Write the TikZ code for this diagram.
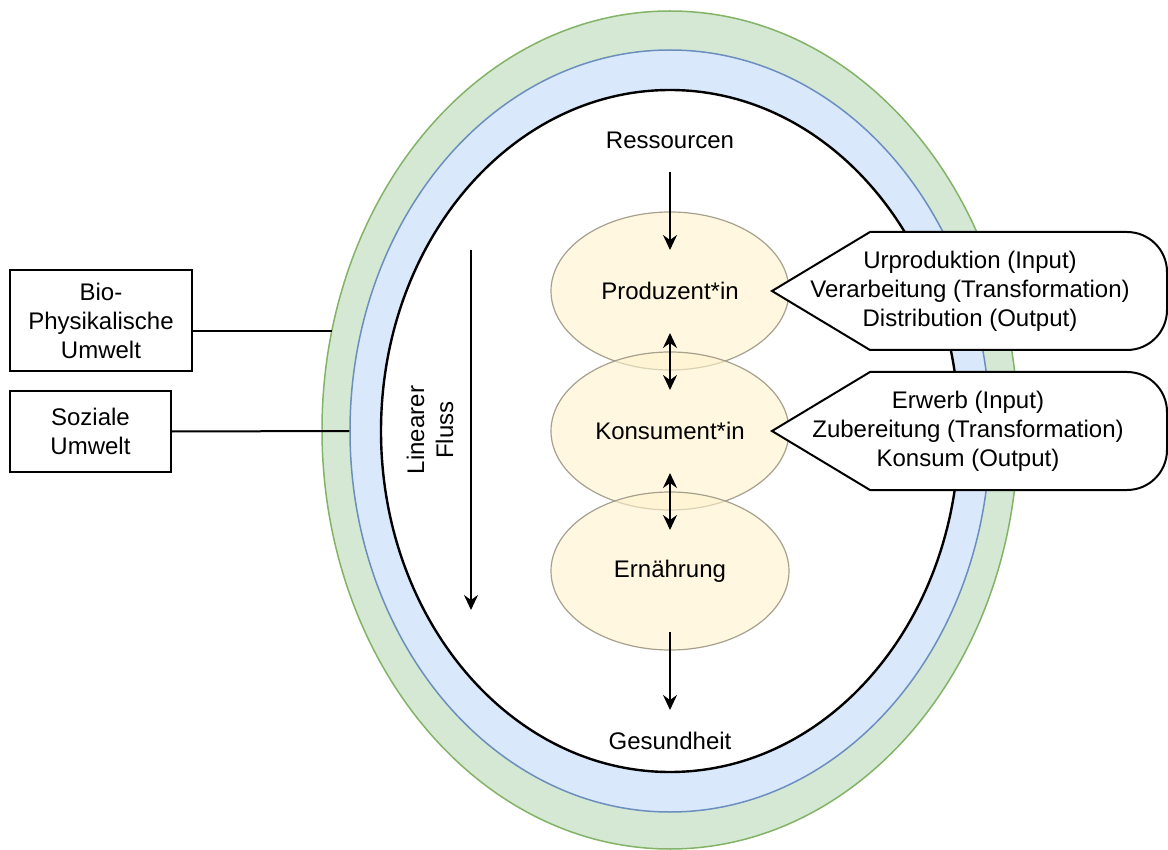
\documentclass[tikz,border=0pt]{standalone}
\usepackage{fontspec}
\setmainfont{Liberation Sans}
\usetikzlibrary{shapes.geometric,arrows.meta}

\definecolor{bioGreen}{HTML}{D5E8D4}
\definecolor{bioGreenLine}{HTML}{82B366}
\definecolor{socBlue}{HTML}{DAE8FC}
\definecolor{socBlueLine}{HTML}{6C8EBF}
\definecolor{actorFill}{HTML}{FFF2CC}
\definecolor{actorLine}{HTML}{9E9784}

\tikzset{flowtip/.tip={Stealth[length=15pt,width=14pt,inset=5pt]}}

\begin{document}
\begin{tikzpicture}[x=1pt,y=-1pt,
  txt/.style={font=\fontsize{24}{29}\selectfont, align=center, inner sep=0pt},
  ring/.style={ellipse, inner sep=0pt, line width=1.5pt},
  actor/.style={ellipse, inner sep=0pt, minimum width=238pt, minimum height=158pt,
    fill=actorFill, fill opacity=0.6, text opacity=1, draw=actorLine,
    draw opacity=0.9, line width=1.2pt, font=\fontsize{24}{29}\selectfont},
  envbox/.style={txt, draw, line width=2pt},
  flow/.style={line width=2pt, -{flowtip}},
  twoway/.style={line width=2pt, {flowtip}-{flowtip}},
  link/.style={line width=2pt},
  callout/.style={draw, fill=white, line width=2pt}
]
\useasboundingbox (0,0) rectangle (1168,850);

% nested environments
\node[ring, draw=bioGreenLine, fill=bioGreen, minimum width=696pt, minimum height=838pt] (bio) at (670,430) {};
\node[ring, draw=socBlueLine, fill=socBlue, minimum width=640pt, minimum height=762pt] (soz) at (670,431) {};
\node[ring, draw=black, fill=white, line width=2.4pt, minimum width=578pt, minimum height=682pt] (sys) at (670,431) {};

% environment labels
\node[envbox, minimum width=182pt, minimum height=101pt] (bioBox) at (101,320.5) {Bio-\\Physikalische\\Umwelt};
\node[envbox, minimum width=161pt, minimum height=81pt] (sozBox) at (90.5,431.5) {Soziale\\Umwelt};
\coordinate (bioTouch) at (332,331);
\draw[link] (bioBox.east |- bioTouch) -- (bioTouch);
\draw[link] (sozBox.east) -- (soz.west);

% actors of the food chain
\node[actor] (prod) at (670,291) {Produzent*in};
\node[actor] (kons) at (670,431) {Konsument*in};
\node[actor] (ern) at (670,571) {Ernährung};

% inputs and outcome
\node[txt] (res) at (670,140) {Ressourcen};
\node[txt] (ges) at (670,741) {Gesundheit};
\coordinate (prodIn) at (670,250);
\coordinate (ernOut) at (670,632);
\draw[flow, shorten <=23pt] (res.south) -- (prodIn);
\draw[flow, shorten >=22pt] (ernOut) -- (ges.north);

% exchanges between neighbouring actors
\coordinate (pkTop) at (670,333);
\coordinate (pkBot) at (670,390);
\coordinate (keTop) at (670,473);
\coordinate (keBot) at (670,530);
\draw[twoway] (pkTop) -- (pkBot);
\draw[twoway] (keTop) -- (keBot);

% linear flow
\node[txt, rotate=90] (lin) at (430,430) {Linearer\\Fluss};
\coordinate (flowTop) at (471,250);
\coordinate (flowEnd) at (471,610);
\draw[flow] (flowTop) -- (flowEnd);

% callouts with the activities of each actor
\draw[callout] (772,291) -- (870,232) [rounded corners=40pt] -- (1167,232) -- (1167,350)
  [sharp corners] -- (870,350) -- cycle;
\node[txt] (prodTasks) at (970,291) {Urproduktion (Input)\\Verarbeitung (Transformation)\\Distribution (Output)};

\draw[callout] (772,431) -- (870,372) [rounded corners=40pt] -- (1167,372) -- (1167,490)
  [sharp corners] -- (870,490) -- cycle;
\node[txt] (konsTasks) at (968,431) {Erwerb (Input)\\Zubereitung (Transformation)\\Konsum (Output)};
\end{tikzpicture}
\end{document}
